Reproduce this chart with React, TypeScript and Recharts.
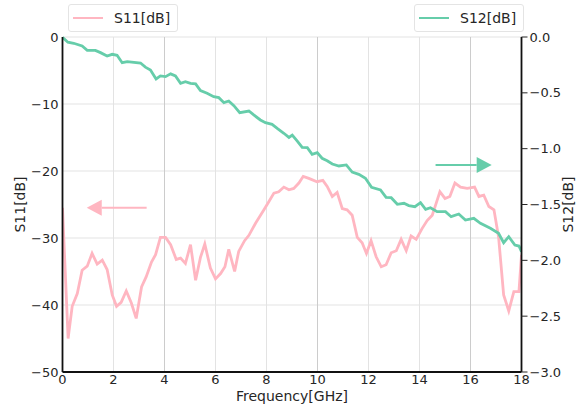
import { LineChart, Line, XAxis, YAxis, CartesianGrid, Legend, ReferenceLine } from 'recharts'

const S11_FREQ = [
  0, 0.22, 0.38, 0.58, 0.77, 0.97, 1.16, 1.36, 1.56, 1.75, 1.95, 2.12, 2.3, 2.5, 2.7, 2.89,
  3.1, 3.28, 3.49, 3.65, 3.84, 4.04, 4.24, 4.46, 4.63, 4.82, 5.02, 5.22, 5.41, 5.58, 5.8, 6.0,
  6.2, 6.37, 6.52, 6.75, 6.91, 7.14, 7.31, 7.57, 7.9, 8.09, 8.29, 8.48, 8.68, 8.88, 9.07, 9.27,
  9.44, 9.66, 9.98, 10.21, 10.38, 10.58, 10.77, 10.97, 11.16, 11.36, 11.56, 11.75, 11.92, 12.1,
  12.3, 12.5, 12.69, 12.89, 13.09, 13.28, 13.48, 13.67, 13.87, 14.1, 14.3, 14.5, 14.63, 14.8,
  15.0, 15.19, 15.39, 15.61, 15.87, 16.16, 16.33, 16.52, 16.72, 16.92, 17.1, 17.3, 17.5, 17.7,
  17.9, 18.0,
]
const S11_DB = [
  -25.5, -45, -40.2, -38.3, -34.8, -34.2, -32.3, -33.9, -33.3, -34.7, -38.5, -40.2, -39.6, -37.9, -39.7, -42.0,
  -37.3, -35.8, -33.6, -32.5, -29.9, -29.9, -31.0, -33.2, -33.0, -33.8, -31.0, -36.3, -32.9, -30.9, -34.5, -36.1,
  -35.3, -34.3, -31.7, -35.0, -32.0, -30.4, -29.6, -27.8, -25.8, -24.6, -23.3, -23.1, -22.4, -22.8, -22.6, -21.8,
  -20.8, -21.1, -21.6, -21.4, -22.3, -23.8, -23.2, -25.6, -25.8, -26.6, -29.9, -30.7, -32.3, -30.4,
  -32.8, -34.3, -34.0, -32.2, -31.9, -30.2, -31.9, -29.7, -30.2, -28.6, -27.4, -26.6, -25.1, -23.1,
  -24.1, -23.8, -21.8, -22.4, -22.6, -22.4, -23.8, -23.6, -25.3, -25.8, -29.8, -38.5, -40.9, -38.0,
  -38.0, -32.5,
]

const S12_FREQ = [
  0, 0.21, 0.44, 0.77, 0.97, 1.29, 1.49, 1.75, 1.95, 2.14, 2.34, 2.54, 3.06, 3.25, 3.45, 3.67,
  3.84, 4.04, 4.24, 4.43, 4.63, 4.82, 5.02, 5.22, 5.41, 5.67, 5.93, 6.13, 6.33, 6.52, 6.72, 6.95,
  7.31, 7.5, 7.76, 7.96, 8.22, 8.42, 8.68, 8.88, 9.01, 9.2, 9.4, 9.6, 9.79, 9.99, 10.18, 10.38,
  10.58, 10.84, 11.13, 11.36, 11.62, 11.88, 12.12, 12.47, 12.69, 12.89, 13.13, 13.39, 13.58, 13.82,
  14.04, 14.24, 14.43, 14.69, 15.02, 15.24, 15.54, 15.8, 16.13, 16.39, 16.78, 17.1, 17.3, 17.5,
  17.74, 17.9, 18.0,
]
const S12_DB = [
  -0.003, -0.047, -0.056, -0.081, -0.12, -0.12, -0.14, -0.17, -0.155, -0.164, -0.23, -0.22, -0.233, -0.27, -0.295, -0.376,
  -0.349, -0.355, -0.33, -0.349, -0.415, -0.4, -0.415, -0.42, -0.48, -0.504, -0.534, -0.543, -0.588, -0.573, -0.615, -0.678,
  -0.663, -0.698, -0.743, -0.767, -0.782, -0.818, -0.862, -0.899, -0.878, -0.931, -0.988, -0.991, -1.05, -1.036, -1.086, -1.108,
  -1.137, -1.155, -1.146, -1.21, -1.23, -1.265, -1.346, -1.37, -1.436, -1.439, -1.498, -1.489, -1.51, -1.52,
  -1.484, -1.543, -1.529, -1.564, -1.564, -1.609, -1.585, -1.639, -1.624, -1.668, -1.713, -1.758, -1.842, -1.788,
  -1.863, -1.872, -1.922,
]

const X_TICKS = [0, 2, 4, 6, 8, 10, 12, 14, 16, 18]
const S11_TICKS = [-50, -40, -30, -20, -10, 0]
const S12_TICKS = [-3.0, -2.5, -2.0, -1.5, -1.0, -0.5, 0.0]
const DARK_GRID = [4, 10, 16]

const PINK = '#ffb6c1'
const GREEN = '#66cdaa'
const TEXT = '#262626'
const FONT = '"DejaVu Sans", sans-serif'

const s11Data = S11_FREQ.map((f, i) => ({ f, s11: S11_DB[i] }))
const s12Data = S12_FREQ.map((f, i) => ({ f, s12: S12_DB[i] }))

const minus = (s: string) => s.replace('-', '\u2212')

// legend boxes sit at the two top corners, like matplotlib's two separate legends
const LEGEND_POS = [{ left: 68 }, { left: 414 }]

function renderLegend(props: any) {
  const items = props.payload || []
  return (
    <div style={{ position: 'relative', width: 584, height: 36 }}>
      {items.map((item: any, i: number) => (
        <div key={i} style={{
          position: 'absolute', top: 4, ...LEGEND_POS[i], height: 28, padding: '0 7px 0 4px',
          border: '1px solid #e4e4e4', borderRadius: 3, background: '#fff',
          display: 'flex', alignItems: 'center', boxSizing: 'border-box',
          fontFamily: FONT, fontSize: 14, color: TEXT,
        }}>
          <span style={{ display: 'inline-block', width: 30, height: 2.5, background: item.color, marginRight: 11 }} />
          <span>{item.value}</span>
        </div>
      ))}
    </div>
  )
}

function arrowShape(color: string) {
  return (p: any) => {
    const { x1, y1, x2, y2 } = p
    if (x1 == null || x2 == null) return <g />
    const dir = x2 > x1 ? 1 : -1
    const head = 15
    const half = 8
    const bx = x2 - dir * head
    return (
      <g>
        <line x1={x1} y1={y1} x2={bx} y2={y2} stroke={color} strokeWidth={2} />
        <polygon points={`${x2},${y2} ${bx},${y2 - half} ${bx},${y2 + half}`} fill={color} />
      </g>
    )
  }
}

function sideLabel(text: string, x: number) {
  return (props: any) => {
    const vb = props.viewBox || {}
    const cy = vb.y + vb.height / 2
    return (
      <text x={x} y={cy} transform={`rotate(-90 ${x} ${cy})`} textAnchor="middle"
        dominantBaseline="central" fontSize={14} fill={TEXT} fontFamily={FONT}>
        {text}
      </text>
    )
  }
}

export default function App() {
  return (
    <div style={{ position: 'absolute', left: 0, top: 0, background: '#fff' }}>
      <LineChart width={584} height={412} margin={{ top: 37, right: 12.5, bottom: 10, left: 12.5 }}
        style={{ fontFamily: FONT }}>
        <CartesianGrid yAxisId="left" stroke="#e3e3e3" strokeWidth={1} />
        {DARK_GRID.map((g) => (
          <ReferenceLine key={g} x={g} yAxisId="left" stroke="#cccccc" strokeWidth={1} />
        ))}
        <XAxis dataKey="f" type="number" domain={[0, 18]} ticks={X_TICKS} allowDataOverflow
          height={30} tickLine={false} tickSize={1} tickMargin={2}
          axisLine={{ stroke: '#111', strokeWidth: 1.8 }}
          tick={{ fontSize: 13, fill: TEXT }}
          label={{ value: 'Frequency[GHz]', position: 'insideBottom', offset: 1, fontSize: 14, fill: TEXT }} />
        <XAxis xAxisId="top" orientation="top" type="number" domain={[0, 18]} height={0}
          tick={false} tickLine={false} axisLine={{ stroke: '#111', strokeWidth: 1.8 }} />
        <YAxis yAxisId="left" domain={[-50, 0]} ticks={S11_TICKS} width={50}
          tickLine={false} tickSize={1} tickMargin={3}
          axisLine={{ stroke: '#111', strokeWidth: 1.8 }}
          tick={{ fontSize: 13, fill: TEXT }} tickFormatter={(v: number) => minus(String(v))}
          label={{ content: sideLabel('S11[dB]', 20) }} />
        <YAxis yAxisId="right" orientation="right" domain={[-3, 0]} ticks={S12_TICKS} width={50}
          tickSize={6} tickMargin={2} tickLine={{ stroke: TEXT }}
          axisLine={{ stroke: '#111', strokeWidth: 1.8 }}
          tick={{ fontSize: 13, fill: TEXT }} tickFormatter={(v: number) => minus(v.toFixed(1))}
          label={{ content: sideLabel('S12[dB]', 568) }} />
        <Legend layout="vertical" align="center" verticalAlign="middle"
          wrapperStyle={{ top: 0, left: 0, width: 584, height: 36 }} content={renderLegend} />
        <Line yAxisId="left" data={s11Data} dataKey="s11" name="S11[dB]" type="linear"
          stroke={PINK} strokeWidth={2.8} dot={false} isAnimationActive={false} />
        <Line yAxisId="right" data={s12Data} dataKey="s12" name="S12[dB]" type="linear"
          stroke={GREEN} strokeWidth={2.8} dot={false} isAnimationActive={false} />
        <ReferenceLine yAxisId="left" segment={[{ x: 3.3, y: -25.5 }, { x: 0.95, y: -25.5 }]}
          shape={arrowShape(PINK)} />
        <ReferenceLine yAxisId="right" segment={[{ x: 14.63, y: -1.146 }, { x: 16.83, y: -1.146 }]}
          shape={arrowShape(GREEN)} />
      </LineChart>
    </div>
  )
}
